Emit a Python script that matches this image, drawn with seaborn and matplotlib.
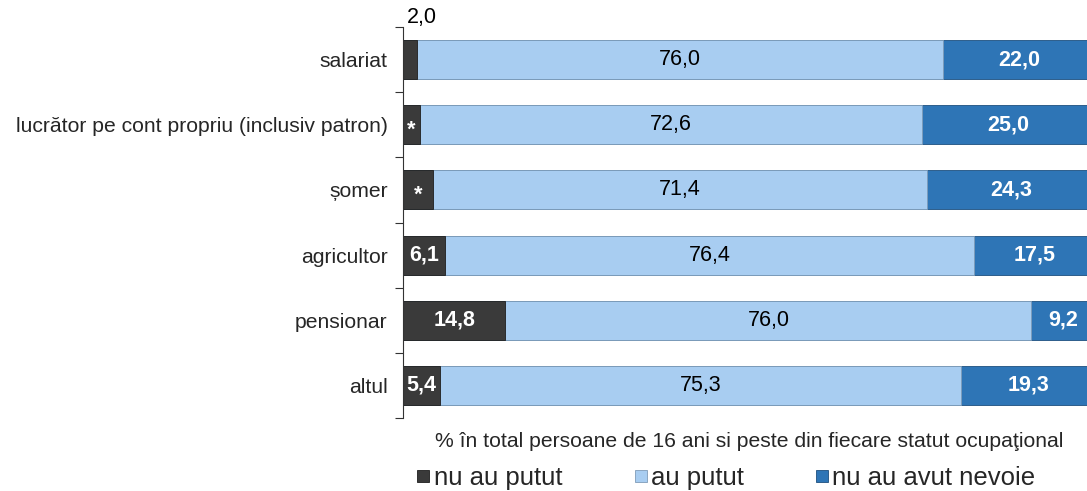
import numpy as np
import pandas as pd
import matplotlib.pyplot as plt
import seaborn as sns
from matplotlib.lines import Line2D

categories = ["salariat", "lucrător pe cont propriu (inclusiv patron)", "șomer",
              "agricultor", "pensionar", "altul"]
nu_au_putut = [2.0, 2.4, 4.3, 6.1, 14.8, 5.4]
au_putut = [76.0, 72.6, 71.4, 76.4, 76.0, 75.3]
nu_au_avut_nevoie = [22.0, 25.0, 24.3, 17.5, 9.2, 19.3]
dark_labels = ["2,0", "*", "*", "6,1", "14,8", "5,4"]
series_names = ["nu au putut", "au putut", "nu au avut nevoie"]

c_dark = "#3a3a3a"
c_light = "#a8cdf1"
c_blue = "#2e75b6"

df = pd.DataFrame({"cat": categories, "a": nu_au_putut, "b": au_putut, "c": nu_au_avut_nevoie})
df["ab"] = df["a"] + df["b"]
df["abc"] = df["ab"] + df["c"]

sns.set_theme(style="white")
plt.rcParams["font.family"] = ["Liberation Sans", "DejaVu Sans"]

fig = plt.figure(figsize=(10.87, 4.91), dpi=100)
ax = fig.add_axes([403 / 1087, 1 - 418 / 491, 692 / 1087, 391 / 491])

sns.barplot(data=df, y="cat", x="abc", color=c_blue, orient="h", width=0.6, saturation=1,
            edgecolor="#1d4f7e", linewidth=0.6, ax=ax)
sns.barplot(data=df, y="cat", x="ab", color=c_light, orient="h", width=0.6, saturation=1,
            edgecolor="#7f9cb8", linewidth=0.6, ax=ax)
sns.barplot(data=df, y="cat", x="a", color=c_dark, orient="h", width=0.6, saturation=1,
            edgecolor="#1e1e1e", linewidth=0.6, ax=ax)

ax.set_xlim(0, 100)
ax.set_ylim(5.5, -0.5)
ax.set_xticks([])
ax.set_xlabel("% în total persoane de 16 ani si peste din fiecare statut ocupaţional",
              fontsize=15.2, labelpad=10)
ax.set_ylabel("")
ax.set_yticks(range(len(categories)))
ax.set_yticklabels(categories, fontsize=15.2)
ax.set_yticks(np.arange(-0.5, len(categories), 1), minor=True)
ax.tick_params(axis="y", which="major", length=0, pad=11)
ax.tick_params(axis="y", which="minor", length=6, width=0.8, color="#333333", left=True)
for s in ["top", "right", "bottom"]:
    ax.spines[s].set_visible(False)
ax.spines["left"].set_color("#333333")
ax.spines["left"].set_linewidth(0.8)

fs = 15.5
for i in range(len(categories)):
    a, b, c = nu_au_putut[i], au_putut[i], nu_au_avut_nevoie[i]
    lab = dark_labels[i]
    if i == 0:
        ax.text(0.5, -0.48, lab, ha="left", va="bottom", fontsize=fs, color="black",
                clip_on=False)
    elif lab == "*":
        ax.text(a / 2, i + 0.08, lab, ha="center", va="center", fontsize=fs,
                color="white", fontweight="bold")
    else:
        ax.text(a / 2, i, lab, ha="center", va="center", fontsize=fs,
                color="white", fontweight="bold")
    ax.text(a + b / 2, i, f"{b:.1f}".replace(".", ","), ha="center", va="center",
            fontsize=fs, color="black")
    ax.text(a + b + c / 2, i, f"{c:.1f}".replace(".", ","), ha="center", va="center",
            fontsize=fs, color="white", fontweight="bold")

handles = [Line2D([], [], marker="s", linestyle="", markersize=8.5, markerfacecolor=col,
                  markeredgecolor=ec, markeredgewidth=0.6)
           for col, ec in [(c_dark, "#1e1e1e"), (c_light, "#7f9cb8"), (c_blue, "#1d4f7e")]]
fig.legend(handles, series_names, loc="center", bbox_to_anchor=(725 / 1087, 1 - 478 / 491),
           ncol=3, frameon=False, fontsize=18.5, handletextpad=0.05, columnspacing=2.7,
           handlelength=0.7, borderpad=0, borderaxespad=0)

fig.savefig("out.png", dpi=100)
